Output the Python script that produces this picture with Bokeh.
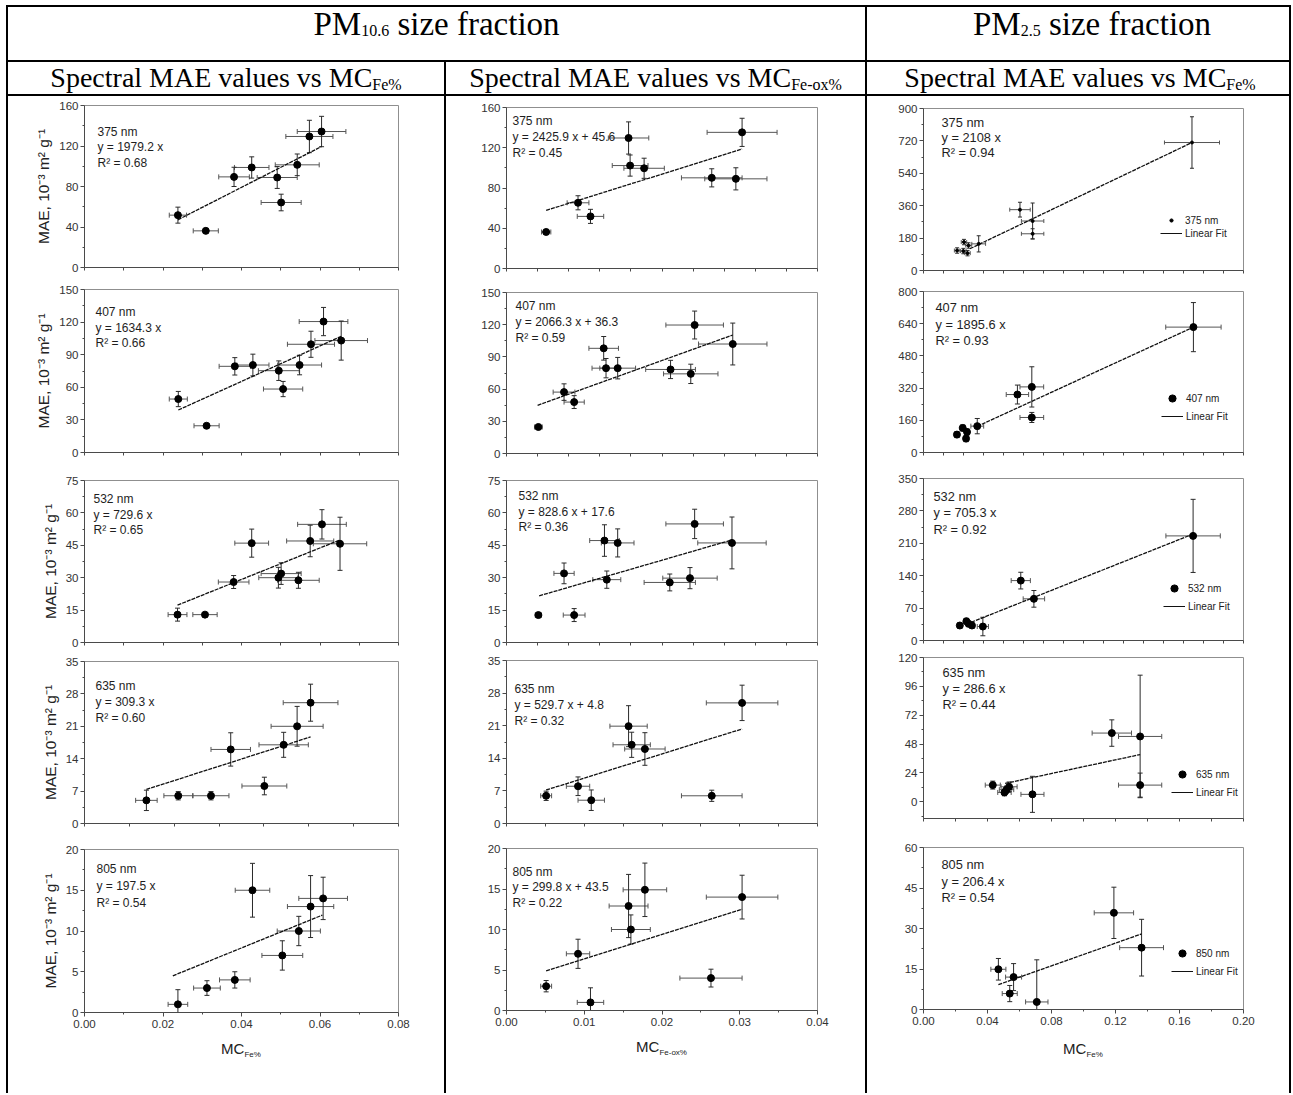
from bokeh.plotting import figure
from bokeh.models import (ColumnDataSource, Range1d, FixedTicker, PrintfTickFormatter,
                          Whisker, TeeHead, Label, Legend, LegendItem, Div, Spacer)
from bokeh.layouts import row, column
from bokeh.embed import file_html
from bokeh.resources import INLINE

# ---------------- data: PM10.6 vs MC_Fe% ----------------
c1_375_x = [0.0238, 0.0309, 0.0381, 0.0426, 0.0491, 0.0501, 0.0542, 0.0573, 0.0604]
c1_375_y = [51.7, 36.2, 89.5, 98.8, 88.9, 64.2, 101.4, 129.4, 134.3]
c1_375_xe = [0.0022, 0.0032, 0.0039, 0.0044, 0.0051, 0.0051, 0.0056, 0.0060, 0.0062]
c1_375_ye = [7.9, 2.0, 9.5, 10.5, 10.8, 8.2, 10.7, 16.0, 15.0]
c1_375_fx = [0.0238, 0.0604]
c1_375_fy = [47.1, 119.5]

c1_407_x = [0.0239, 0.0311, 0.0383, 0.0429, 0.0495, 0.0506, 0.0548, 0.0577, 0.0609, 0.0654]
c1_407_y = [49.2, 24.6, 79.3, 80.5, 75.3, 58.4, 80.5, 99.6, 120.5, 103.0]
c1_407_xe = [0.0023, 0.0032, 0.0040, 0.0041, 0.0052, 0.0050, 0.0056, 0.0060, 0.0062, 0.0067]
c1_407_ye = [7.0, 2.0, 8.0, 10.0, 9.0, 7.0, 9.0, 12.0, 13.0, 18.0]
c1_407_fx = [0.0239, 0.0654]
c1_407_fy = [39.1, 106.9]

c1_532_x = [0.0237, 0.0307, 0.0380, 0.0426, 0.0494, 0.0501, 0.0545, 0.0575, 0.0605, 0.0651]
c1_532_y = [12.9, 12.9, 28.0, 46.0, 30.0, 31.9, 28.8, 47.0, 54.7, 45.7]
c1_532_xe = [0.0024, 0.0031, 0.0039, 0.0043, 0.0050, 0.0051, 0.0053, 0.0060, 0.0062, 0.0068]
c1_532_ye = [3.0, 1.0, 3.0, 6.5, 4.8, 5.0, 3.7, 7.3, 6.8, 12.3]
c1_532_fx = [0.0237, 0.0651]
c1_532_fy = [17.3, 47.5]

c1_635_x = [0.0238, 0.0309, 0.0382, 0.0426, 0.0501, 0.0544, 0.0574, 0.0604]
c1_635_y = [5.0, 6.0, 6.0, 16.0, 8.1, 17.0, 21.0, 26.1]
c1_635_xe = [0.0024, 0.0032, 0.0040, 0.0044, 0.0050, 0.0055, 0.0058, 0.0061]
c1_635_ye = [2.2, 0.9, 0.9, 3.6, 1.9, 2.7, 4.3, 4.0]
c1_635_fx = [0.0238, 0.0604]
c1_635_fy = [7.36, 18.7]

c1_805_x = [0.0238, 0.0312, 0.0383, 0.0428, 0.0504, 0.0546, 0.0576, 0.0608]
c1_805_y = [1.0, 3.0, 4.0, 15.0, 7.0, 10.0, 13.0, 14.0]
c1_805_xe = [0.0025, 0.0034, 0.0039, 0.0044, 0.0052, 0.0055, 0.0059, 0.0062]
c1_805_ye = [1.8, 0.9, 1.0, 3.3, 1.8, 1.8, 3.8, 2.6]
c1_805_fx = [0.0225, 0.0606]
c1_805_fy = [4.5, 11.95]

# ---------------- data: PM10.6 vs MC_Fe-ox% ----------------
c2_375_x = [0.0051, 0.0092, 0.0108, 0.0157, 0.0159, 0.0177, 0.0264, 0.0295, 0.0303]
c2_375_y = [36.3, 65.3, 51.8, 129.7, 102.3, 99.6, 90.1, 89.1, 135.3]
c2_375_xe = [0.0006, 0.0014, 0.0017, 0.0026, 0.0023, 0.0026, 0.0039, 0.0040, 0.0045]
c2_375_ye = [2.0, 7.0, 7.0, 16.0, 10.5, 10.0, 9.0, 11.0, 14.0]
c2_375_fx = [0.0051, 0.0303]
c2_375_fy = [57.7, 118.8]

c2_407_x = [0.0041, 0.0074, 0.0087, 0.0125, 0.0128, 0.0143, 0.0211, 0.0237, 0.0242, 0.0291]
c2_407_y = [24.7, 57.2, 47.9, 98.0, 79.5, 79.5, 78.3, 74.2, 119.7, 102.0]
c2_407_xe = [0.0005, 0.0014, 0.0013, 0.0019, 0.0018, 0.0023, 0.0032, 0.0035, 0.0037, 0.0044]
c2_407_ye = [1.5, 7.7, 6.0, 11.0, 9.0, 10.0, 8.5, 9.0, 13.0, 19.5]
c2_407_fx = [0.0040, 0.0291]
c2_407_fy = [44.9, 110.4]

c2_532_x = [0.0041, 0.0074, 0.0087, 0.0126, 0.0129, 0.0143, 0.0210, 0.0236, 0.0242, 0.0290]
c2_532_y = [12.7, 32.0, 12.7, 47.2, 29.1, 46.1, 27.8, 29.8, 54.9, 46.1]
c2_532_xe = [0.0004, 0.0013, 0.0014, 0.0019, 0.0018, 0.0021, 0.0033, 0.0035, 0.0037, 0.0044]
c2_532_ye = [1.0, 4.8, 3.0, 7.3, 4.0, 6.5, 3.9, 4.9, 6.8, 12.0]
c2_532_fx = [0.0042, 0.0290]
c2_532_fy = [21.6, 47.5]

c2_635_x = [0.0051, 0.0092, 0.0109, 0.0157, 0.0161, 0.0178, 0.0264, 0.0303]
c2_635_y = [5.95, 8.0, 5.0, 20.9, 16.9, 16.0, 5.95, 25.9]
c2_635_xe = [0.0007, 0.0015, 0.0017, 0.0024, 0.0024, 0.0026, 0.0039, 0.0046]
c2_635_ye = [1.0, 2.0, 2.2, 4.4, 2.7, 3.5, 1.2, 3.8]
c2_635_fx = [0.0051, 0.0303]
c2_635_fy = [7.2, 20.3]

c2_805_x = [0.0051, 0.0092, 0.0108, 0.0157, 0.0160, 0.0178, 0.0263, 0.0303]
c2_805_y = [3.0, 7.0, 1.0, 12.9, 10.0, 14.9, 4.0, 14.0]
c2_805_xe = [0.0007, 0.0015, 0.0017, 0.0025, 0.0025, 0.0028, 0.0040, 0.0046]
c2_805_ye = [0.7, 1.8, 1.8, 3.9, 1.8, 3.3, 1.1, 2.7]
c2_805_fx = [0.0051, 0.0303]
c2_805_fy = [4.9, 12.5]

# ---------------- data: PM2.5 vs MC_Fe% ----------------
c3_375_x = [0.0210, 0.0249, 0.0275, 0.0253, 0.0281, 0.0345, 0.0603, 0.0682, 0.0682, 0.1678]
c3_375_y = [111, 108, 96.5, 158, 139, 148, 338, 275, 204, 711]
c3_375_xe = [0.0017, 0.0017, 0.0017, 0.0017, 0.0017, 0.0043, 0.0064, 0.0070, 0.0070, 0.0172]
c3_375_ye = [15, 15, 15, 15, 15, 45, 41, 100, 28, 143]
c3_375_fx = [0.0290, 0.1678]
c3_375_fy = [121, 711]

c3_407_x = [0.0209, 0.0245, 0.0272, 0.0266, 0.0336, 0.0587, 0.0677, 0.0677, 0.1687]
c3_407_y = [89, 122, 102, 69, 131, 288, 326, 174, 623]
c3_407_xe = [0.0015, 0.0015, 0.0015, 0.0015, 0.0040, 0.0070, 0.0074, 0.0074, 0.0173]
c3_407_ye = [15, 15, 15, 15, 38, 47, 100, 25, 122]
c3_407_fx = [0.0336, 0.1687]
c3_407_fy = [130, 623]

c3_532_x = [0.0227, 0.0268, 0.0282, 0.0303, 0.0371, 0.0608, 0.0690, 0.1685]
c3_532_y = [32.4, 41.7, 36.0, 32.4, 30.2, 129.4, 90.0, 226.0]
c3_532_xe = [0.0015, 0.0015, 0.0015, 0.0015, 0.0035, 0.0060, 0.0067, 0.0170]
c3_532_ye = [6, 6, 6, 6, 20, 18, 18, 79]
c3_532_fx = [0.0299, 0.1685]
c3_532_fy = [39.5, 230]

c3_635_x = [0.0433, 0.0506, 0.0519, 0.0535, 0.0681, 0.1177, 0.1354, 0.1354]
c3_635_y = [13.8, 7.7, 10.0, 12.4, 6.1, 57.1, 54.3, 13.8]
c3_635_xe = [0.0047, 0.0042, 0.0045, 0.0050, 0.0072, 0.0123, 0.0135, 0.0135]
c3_635_ye = [3.3, 2.8, 3.0, 4.0, 15.0, 11.0, 51.0, 10.0]
c3_635_fx = [0.0510, 0.1354]
c3_635_fy = [15.2, 39.2]

c3_805_x = [0.0468, 0.0539, 0.0563, 0.0708, 0.1190, 0.1363]
c3_805_y = [14.9, 5.9, 12.0, 2.8, 35.8, 22.9]
c3_805_xe = [0.0047, 0.0047, 0.0050, 0.0070, 0.0123, 0.0137]
c3_805_ye = [4.0, 3.0, 5.0, 15.6, 9.5, 10.5]
c3_805_fx = [0.0468, 0.1363]
c3_805_fy = [9.2, 28.0]

# ---------------- texts ----------------
wavelengths = ["375 nm", "407 nm", "532 nm", "635 nm", "805 nm"]
c1_eq = ["y = 1979.2 x", "y = 1634.3 x", "y = 729.6 x", "y = 309.3 x", "y = 197.5 x"]
c1_r2 = ["R² = 0.68", "R² = 0.66", "R² = 0.65", "R² = 0.60", "R² = 0.54"]
c2_eq = ["y = 2425.9 x + 45.6", "y = 2066.3 x + 36.3", "y = 828.6 x + 17.6",
         "y = 529.7 x + 4.8", "y = 299.8 x + 43.5"]
c2_r2 = ["R² = 0.45", "R² = 0.59", "R² = 0.36", "R² = 0.32", "R² = 0.22"]
c3_eq = ["y = 2108 x", "y = 1895.6 x", "y = 705.3 x", "y = 286.6 x", "y = 206.4 x"]
c3_r2 = ["R² = 0.94", "R² = 0.93", "R² = 0.92", "R² = 0.44", "R² = 0.54"]
c3_legend = ["375 nm", "407 nm", "532 nm", "635 nm", "850 nm"]
fit_label = "Linear Fit"
y_label = "MAE, 10⁻³ m² g⁻¹"

# ---------------- axis ranges and tick labels ----------------
pm10_yranges = [(0, 160), (0, 150), (0, 75), (0, 35), (0, 20)]
pm10_yticks = [[0, 40, 80, 120, 160], [0, 30, 60, 90, 120, 150], [0, 15, 30, 45, 60, 75],
               [0, 7, 14, 21, 28, 35], [0, 5, 10, 15, 20]]
pm25_yranges = [(0, 900), (0, 800), (0, 350), (-14, 120), (0, 60)]
pm25_yticks = [[0, 180, 360, 540, 720, 900], [0, 160, 320, 480, 640, 800],
               [0, 70, 140, 210, 280, 350], [0, 24, 48, 72, 96, 120], [0, 15, 30, 45, 60]]
c1_xranges = [(0, 0.08), (0, 0.08), (0, 0.08), (0.01, 0.08), (0, 0.08)]
c1_xticks = [0.00, 0.02, 0.04, 0.06, 0.08]
c2_xranges = [(0, 0.04)] * 5
c2_xticks_upper = [0, 0.008, 0.016, 0.024, 0.032, 0.04]
c2_xticks = [0.00, 0.01, 0.02, 0.03, 0.04]
c3_xranges = [(0, 0.2)] * 5
c3_xticks_upper = [0, 0.025, 0.05, 0.075, 0.1, 0.125, 0.15, 0.175, 0.2]
c3_xticks = [0.00, 0.04, 0.08, 0.12, 0.16, 0.20]

# ---------------- layout (px) ----------------
FONT = "Liberation Sans"
SERIF = "'Liberation Serif', 'Times New Roman', serif"
W1, W2, W3 = 436, 419, 422
# (L, R, H, T, B)
c1_box = [(76, 46, 182, 9, 11), (76, 46, 188, 11, 14), (76, 46, 185, 14, 9),
          (76, 46, 185, 10, 13), (76, 46, 200, 13, 24)]
c2_box = [(60, 48, 184, 11, 12), (60, 48, 186, 12, 13), (60, 48, 185, 14, 9),
          (60, 48, 185, 9, 13), (60, 48, 198, 12, 24)]
c3_box = [(56, 46, 185, 12, 11), (56, 46, 185, 10, 14), (56, 46, 182, 12, 8),
          (56, 46, 185, 9, 15), (56, 46, 200, 14, 24)]
c1_txt = [(13, 26, 15.5), (11, 22.7, 15.5), (9, 18.3, 15.8), (11, 24, 16.2), (12, 19.3, 17)]
c2_txt = [(6, 13, 16), (9, 13, 16), (12, 15.7, 15.5), (8, 28.3, 16), (6, 23, 15.7)]
c3_txt = [(18, 13.7, 15.3), (12, 16.3, 16.3), (10, 17.7, 16.7), (19, 14.7, 16.3), (18, 17.3, 16.2)]
c3_leg = [(237, 31), (238, 27), (240, 25), (248, 17), (248, 29)]


def minors(ticks, rng):
    step = ticks[1] - ticks[0]
    cand = [ticks[0] - step / 2] + [(a + b) / 2 for a, b in zip(ticks[:-1], ticks[1:])] + [ticks[-1] + step / 2]
    lo, hi = rng
    return [c for c in cand if lo - 1e-9 <= c <= hi + 1e-9]


def make_panel(W, box, xr, yr, xt, yt, x, y, xe, ye, fx, fy, texts, txtpos, txt_size,
               show_xlab, ylab, msize=7, legend=None):
    L, R, H, T, B = box
    p = figure(width=W, height=H, x_range=Range1d(*xr), y_range=Range1d(*yr),
               min_border_left=L, min_border_right=R, min_border_top=T, min_border_bottom=B,
               toolbar_location=None, output_backend="svg", title=None)
    p.xgrid.visible = False
    p.ygrid.visible = False
    p.outline_line_color = "#8f8f8f"
    p.outline_line_width = 1
    p.background_fill_color = "white"
    p.border_fill_color = "white"
    xa, ya = p.xaxis[0], p.yaxis[0]
    for ax in (xa, ya):
        ax.axis_line_color = "#4a4a4a"
        ax.major_tick_line_color = "#4a4a4a"
        ax.minor_tick_line_color = "#4a4a4a"
        ax.major_tick_out = 4
        ax.major_tick_in = 0
        ax.minor_tick_out = 2
        ax.minor_tick_in = 0
        ax.major_label_text_font = FONT
        ax.major_label_text_font_size = "11.5px"
        ax.major_label_text_color = "#333333"
    if show_xlab:
        xa.ticker = FixedTicker(ticks=xt, minor_ticks=minors(xt, xr))
        xa.formatter = PrintfTickFormatter(format="%.2f")
        xa.major_label_standoff = 3
    else:
        # tick marks only (no tick labels on the stacked upper panels)
        allt = sorted(set([round(t, 6) for t in xt + minors(xt, xr)
                           if xr[0] - 1e-9 <= t <= xr[1] + 1e-9]))
        xa.ticker = FixedTicker(ticks=[], minor_ticks=allt)
        xa.minor_tick_out = 3
        xa.major_label_standoff = 0
    ya.ticker = FixedTicker(ticks=yt, minor_ticks=minors(yt, yr))
    ya.formatter = PrintfTickFormatter(format="%d")
    ya.major_label_standoff = 2
    if ylab:
        ya.axis_label = ylab
        ya.axis_label_text_font = FONT
        ya.axis_label_text_font_size = "15.5px"
        ya.axis_label_text_font_style = "normal"
        ya.axis_label_text_color = "#222222"
        ya.axis_label_standoff = 4

    y0, y1 = yr
    src = ColumnDataSource(dict(
        x=x, y=y,
        xl=[a - e for a, e in zip(x, xe)], xu=[a + e for a, e in zip(x, xe)],
        yl=[max(b - e, y0) for b, e in zip(y, ye)], yu=[min(b + e, y1) for b, e in zip(y, ye)]))
    cap = 4 if msize < 5 else 5
    p.add_layout(Whisker(source=src, base="y", lower="xl", upper="xu", dimension="width",
                         line_color="#555555", line_width=1,
                         lower_head=TeeHead(size=cap, line_color="#555555", line_width=1),
                         upper_head=TeeHead(size=cap, line_color="#555555", line_width=1)))
    p.add_layout(Whisker(source=src, base="x", lower="yl", upper="yu", dimension="height",
                         line_color="#2a2a2a", line_width=1,
                         lower_head=TeeHead(size=cap, line_color="#2a2a2a", line_width=1),
                         upper_head=TeeHead(size=cap, line_color="#2a2a2a", line_width=1)))
    p.line(fx, fy, line_color="#111111", line_width=1.3, line_dash="4 1")
    sc = p.scatter("x", "y", source=src, size=msize, fill_color="black", line_color="black")

    fw = W - L - R
    fh = H - T - B
    dx, dy, sp = txtpos
    for i, t in enumerate(texts):
        xd = xr[0] + dx / fw * (xr[1] - xr[0])
        yd = yr[1] - (dy + i * sp) / fh * (yr[1] - yr[0])
        p.add_layout(Label(x=xd, y=yd, text=t, text_font=FONT, text_font_size=txt_size,
                           text_baseline="middle", text_align="left", text_color="#1e1e1e"))

    if legend is not None:
        lab, (lx, ly) = legend
        # one-point line: invisible in the plot, gives the solid legend swatch
        swatch = p.line(fx[:1], fy[:1], line_color="#111111", line_width=1)
        small = msize < 5
        lg = Legend(items=[LegendItem(label=lab, renderers=[sc]),
                           LegendItem(label=fit_label, renderers=[swatch])],
                    location=(lx, ly), border_line_color=None, background_fill_alpha=0,
                    label_text_font=FONT, label_text_font_size="10px", label_text_color="#222222",
                    glyph_width=22, glyph_height=8 if small else 18,
                    label_height=12 if small else 18, spacing=1 if small else -5,
                    padding=0, margin=0, label_standoff=3)
        p.add_layout(lg)
    return p


def hline(w):
    return Div(text="", width=w, height=2, margin=0, styles={"background-color": "#000000"})


def vline(h):
    return Div(text="", width=2, height=h, margin=0, styles={"background-color": "#000000"})


def xlabel_div(L, fw, sub, lh):
    d = Div(text='MC<span style="font-size:8px;vertical-align:-3px">' + sub + '</span>',
            width=fw, height=30, margin=0,
            styles={"font-family": "'Liberation Sans', Arial, sans-serif", "font-size": "15px",
                    "line-height": lh, "text-align": "center", "color": "#222222",
                    "white-space": "nowrap"})
    return row(Spacer(width=L, height=30), d)


c1_data = [(c1_375_x, c1_375_y, c1_375_xe, c1_375_ye, c1_375_fx, c1_375_fy),
           (c1_407_x, c1_407_y, c1_407_xe, c1_407_ye, c1_407_fx, c1_407_fy),
           (c1_532_x, c1_532_y, c1_532_xe, c1_532_ye, c1_532_fx, c1_532_fy),
           (c1_635_x, c1_635_y, c1_635_xe, c1_635_ye, c1_635_fx, c1_635_fy),
           (c1_805_x, c1_805_y, c1_805_xe, c1_805_ye, c1_805_fx, c1_805_fy)]
c2_data = [(c2_375_x, c2_375_y, c2_375_xe, c2_375_ye, c2_375_fx, c2_375_fy),
           (c2_407_x, c2_407_y, c2_407_xe, c2_407_ye, c2_407_fx, c2_407_fy),
           (c2_532_x, c2_532_y, c2_532_xe, c2_532_ye, c2_532_fx, c2_532_fy),
           (c2_635_x, c2_635_y, c2_635_xe, c2_635_ye, c2_635_fx, c2_635_fy),
           (c2_805_x, c2_805_y, c2_805_xe, c2_805_ye, c2_805_fx, c2_805_fy)]
c3_data = [(c3_375_x, c3_375_y, c3_375_xe, c3_375_ye, c3_375_fx, c3_375_fy),
           (c3_407_x, c3_407_y, c3_407_xe, c3_407_ye, c3_407_fx, c3_407_fy),
           (c3_532_x, c3_532_y, c3_532_xe, c3_532_ye, c3_532_fx, c3_532_fy),
           (c3_635_x, c3_635_y, c3_635_xe, c3_635_ye, c3_635_fx, c3_635_fy),
           (c3_805_x, c3_805_y, c3_805_xe, c3_805_ye, c3_805_fx, c3_805_fy)]

col1_figs, col2_figs, col3_figs = [], [], []
for i in range(5):
    last = i == 4
    d = c1_data[i]
    col1_figs.append(make_panel(W1, c1_box[i], c1_xranges[i], pm10_yranges[i], c1_xticks,
                                pm10_yticks[i], *d, [wavelengths[i], c1_eq[i], c1_r2[i]],
                                c1_txt[i], "12px", last, y_label))
    d = c2_data[i]
    col2_figs.append(make_panel(W2, c2_box[i], c2_xranges[i], pm10_yranges[i],
                                c2_xticks if (last or i == 3) else c2_xticks_upper,
                                pm10_yticks[i], *d, [wavelengths[i], c2_eq[i], c2_r2[i]],
                                c2_txt[i], "12px", last, None))
    d = c3_data[i]
    col3_figs.append(make_panel(W3, c3_box[i], c3_xranges[i], pm25_yranges[i],
                                c3_xticks if (last or i == 3) else c3_xticks_upper,
                                pm25_yticks[i], *d, [wavelengths[i], c3_eq[i], c3_r2[i]],
                                c3_txt[i], "12.8px", last, None,
                                msize=3 if i == 0 else 7, legend=(c3_legend[i], c3_leg[i])))

col1 = column(*col1_figs, xlabel_div(76, W1 - 76 - 46, "Fe%", "26px"))
col2 = column(*col2_figs, xlabel_div(60, W2 - 60 - 48, "Fe-ox%", "26px"))
col3 = column(*col3_figs, xlabel_div(56, W3 - 56 - 46, "Fe%", "32px"))

sub_a = '<span style="font-size:16px;vertical-align:-1px">'
sub_b = '<span style="font-size:16px;vertical-align:-3px">'
head1_style = {"font-family": SERIF, "font-size": "33px", "line-height": "34px",
               "text-align": "center", "color": "#000000", "white-space": "nowrap"}
head2_style = {"font-family": SERIF, "font-size": "28px", "line-height": "31px",
               "text-align": "center", "color": "#000000", "white-space": "nowrap"}
head1_style_c3 = dict(head1_style, **{"text-indent": "28px"})
head2_style_c3 = dict(head2_style, **{"text-indent": "4px"})

pm10_head = Div(text="PM" + sub_a + "10.6</span> size fraction", width=W1 + 2 + W2, height=53,
                margin=0, styles=head1_style)
pm25_head = Div(text="PM" + sub_a + "2.5</span> size fraction", width=W3, height=53,
                margin=0, styles=head1_style_c3)
spec1 = Div(text="Spectral MAE values vs MC" + sub_b + "Fe%</span>", width=W1, height=32,
            margin=0, styles=head2_style)
spec2 = Div(text="Spectral MAE values vs MC" + sub_b + "Fe-ox%</span>", width=W2, height=32,
            margin=0, styles=head2_style)
spec3 = Div(text="Spectral MAE values vs MC" + sub_b + "Fe%</span>", width=W3, height=32,
            margin=0, styles=head2_style_c3)

TOTAL_H = 1088
HEAD_H = 2 + 53 + 2 + 32 + 2
BODY_H = TOTAL_H - HEAD_H
left_block = column(hline(W1 + 2 + W2), pm10_head, hline(W1 + 2 + W2),
                    row(spec1, vline(32), spec2), hline(W1 + 2 + W2),
                    row(col1, vline(BODY_H), col2))
right_block = column(hline(W3), pm25_head, hline(W3), spec3, hline(W3), col3)
table = row(Spacer(width=6, height=TOTAL_H), vline(TOTAL_H), left_block, vline(TOTAL_H),
            right_block, vline(TOTAL_H))
page = column(Spacer(width=6 + 2 + W1 + 2 + W2 + 2 + W3 + 2, height=5), table)

open("out.html", "w").write(file_html(page, INLINE, title="Spectral MAE vs MC"))
